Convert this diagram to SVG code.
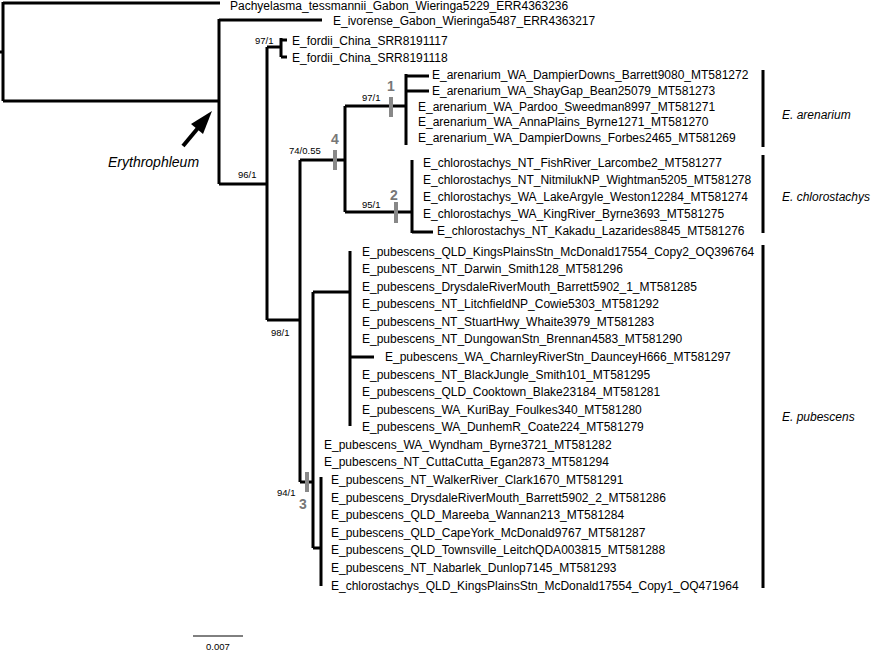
<svg xmlns="http://www.w3.org/2000/svg" width="873" height="659" viewBox="0 0 873 659">
<style>
.t{font-family:"Liberation Sans",Arial,sans-serif;font-size:12px;fill:#000;dominant-baseline:central}
.s{font-family:"Liberation Sans",Arial,sans-serif;font-size:9.5px;fill:#000}
.n{font-family:"Liberation Sans",Arial,sans-serif;font-size:14px;font-weight:bold;fill:#777;text-anchor:middle}
.i{font-family:"Liberation Sans",Arial,sans-serif;font-size:14px;font-style:italic;fill:#000}
.sp{font-family:"Liberation Sans",Arial,sans-serif;font-size:12px;font-style:italic;fill:#000}
.b{stroke:#000;stroke-width:3;fill:none}
.g{stroke:#888;stroke-width:4}
</style>
<rect width="873" height="659" fill="#fff"/>
<g id="connectors">
<path class="b" d="M0,52H3M3,2V101M3,3H220M3,101H219M219,19V184M219,20H322M219,184H267M267,47V320M267,47H281M281,38V57M281,40H287M281,57H287"/>
<path class="b" d="M267,320H300M300,160V482M300,160H345M345,106V212M345,106H406M406,74V145M406,76H429M406,91H429M345,212H412M412,160V233M412,232H433"/>
<path class="b" d="M300,482H313M313,292V548M313,292H350M350,251V426M350,357H374M313,548H321M321,477V586"/>
<path class="b" d="M763,70V147M763,155V233M763,245V588"/>
<path stroke="#000" stroke-width="1" d="M193,636H243"/>
<path stroke="#000" stroke-width="4" d="M183,146L203,122"/>
<polygon points="212,111 191,124 203,134"/>
</g>
<g id="marks">
<line class="g" x1="391" y1="97" x2="391" y2="117"/><text class="n" x="391" y="91">1</text>
<line class="g" x1="396" y1="202" x2="396" y2="223"/><text class="n" x="394" y="200">2</text>
<line class="g" x1="335" y1="150" x2="335" y2="170"/><text class="n" x="335" y="144">4</text>
<line class="g" x1="307" y1="472" x2="307" y2="492"/><text class="n" x="303" y="509">3</text>
<text class="s" x="255" y="44">97/1</text>
<text class="s" x="238" y="178">96/1</text>
<text class="s" x="362" y="101">97/1</text>
<text class="s" x="289" y="154">74/0.55</text>
<text class="s" x="362" y="208">95/1</text>
<text class="s" x="271" y="336">98/1</text>
<text class="s" x="277" y="496">94/1</text>
<text class="i" x="108" y="167">Erythrophleum</text>
<text class="sp" x="782" y="119">E. arenarium</text>
<text class="sp" x="782" y="201">E. chlorostachys</text>
<text class="sp" x="782" y="421">E. pubescens</text>
<text class="s" x="206" y="650">0.007</text>
</g>
<g id="leaves">
<text class="t" x="230" y="6">Pachyelasma_tessmannii_Gabon_Wieringa5229_ERR4363236</text>
<text class="t" x="333" y="21">E_ivorense_Gabon_Wieringa5487_ERR4363217</text>
<text class="t" x="292" y="41">E_fordii_China_SRR8191117</text>
<text class="t" x="292" y="58">E_fordii_China_SRR8191118</text>
<text class="t" x="432" y="75">E_arenarium_WA_DampierDowns_Barrett9080_MT581272</text>
<text class="t" x="432" y="91">E_arenarium_WA_ShayGap_Bean25079_MT581273</text>
<text class="t" x="418" y="107">E_arenarium_WA_Pardoo_Sweedman8997_MT581271</text>
<text class="t" x="418" y="122">E_arenarium_WA_AnnaPlains_Byrne1271_MT581270</text>
<text class="t" x="418" y="138">E_arenarium_WA_DampierDowns_Forbes2465_MT581269</text>
<text class="t" x="423" y="163">E_chlorostachys_NT_FishRiver_Larcombe2_MT581277</text>
<text class="t" x="423" y="180">E_chlorostachys_NT_NitmilukNP_Wightman5205_MT581278</text>
<text class="t" x="423" y="197">E_chlorostachys_WA_LakeArgyle_Weston12284_MT581274</text>
<text class="t" x="423" y="214">E_chlorostachys_WA_KingRiver_Byrne3693_MT581275</text>
<text class="t" x="437" y="231">E_chlorostachys_NT_Kakadu_Lazarides8845_MT581276</text>
<text class="t" x="362" y="252">E_pubescens_QLD_KingsPlainsStn_McDonald17554_Copy2_OQ396764</text>
<text class="t" x="362" y="269">E_pubescens_NT_Darwin_Smith128_MT581296</text>
<text class="t" x="362" y="287">E_pubescens_DrysdaleRiverMouth_Barrett5902_1_MT581285</text>
<text class="t" x="362" y="304">E_pubescens_NT_LitchfieldNP_Cowie5303_MT581292</text>
<text class="t" x="362" y="322">E_pubescens_NT_StuartHwy_Whaite3979_MT581283</text>
<text class="t" x="362" y="339">E_pubescens_NT_DungowanStn_Brennan4583_MT581290</text>
<text class="t" x="385" y="357">E_pubescens_WA_CharnleyRiverStn_DaunceyH666_MT581297</text>
<text class="t" x="362" y="375">E_pubescens_NT_BlackJungle_Smith101_MT581295</text>
<text class="t" x="362" y="392">E_pubescens_QLD_Cooktown_Blake23184_MT581281</text>
<text class="t" x="362" y="410">E_pubescens_WA_KuriBay_Foulkes340_MT581280</text>
<text class="t" x="362" y="427">E_pubescens_WA_DunhemR_Coate224_MT581279</text>
<text class="t" x="324" y="445">E_pubescens_WA_Wyndham_Byrne3721_MT581282</text>
<text class="t" x="324" y="462">E_pubescens_NT_CuttaCutta_Egan2873_MT581294</text>
<text class="t" x="331" y="480">E_pubescens_NT_WalkerRiver_Clark1670_MT581291</text>
<text class="t" x="331" y="498">E_pubescens_DrysdaleRiverMouth_Barrett5902_2_MT581286</text>
<text class="t" x="331" y="515">E_pubescens_QLD_Mareeba_Wannan213_MT581284</text>
<text class="t" x="331" y="533">E_pubescens_QLD_CapeYork_McDonald9767_MT581287</text>
<text class="t" x="331" y="550">E_pubescens_QLD_Townsville_LeitchQDA003815_MT581288</text>
<text class="t" x="331" y="568">E_pubescens_NT_Nabarlek_Dunlop7145_MT581293</text>
<text class="t" x="331" y="586">E_chlorostachys_QLD_KingsPlainsStn_McDonald17554_Copy1_OQ471964</text>
</g>
</svg>
